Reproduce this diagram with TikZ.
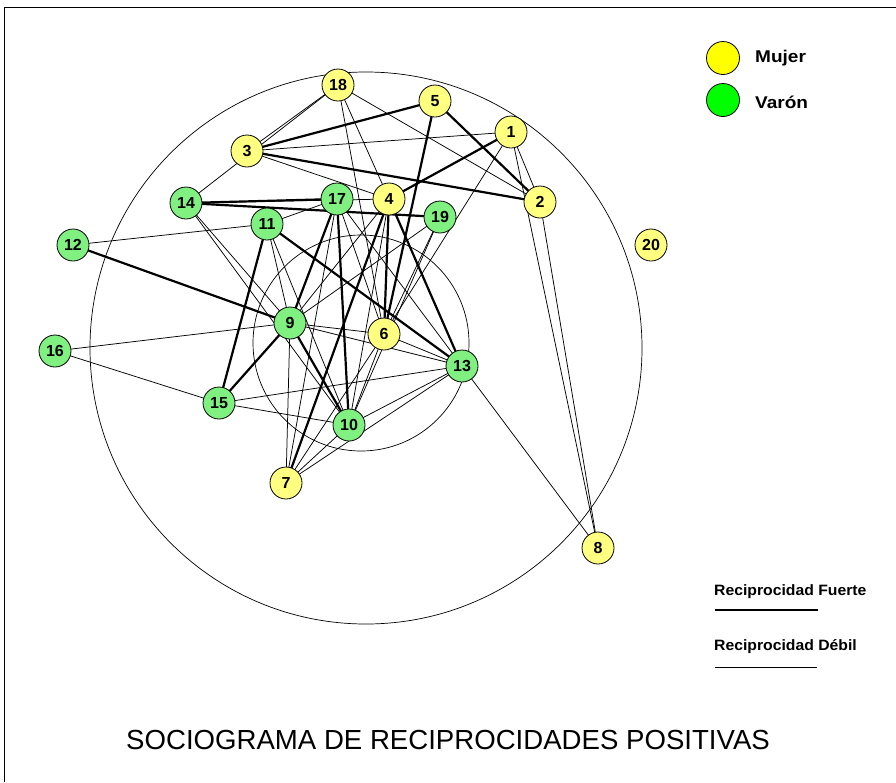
\documentclass[tikz,border=0pt]{standalone}
\usepackage{fontspec}
\setmainfont{Liberation Sans}
\usepackage{graphicx}
\usetikzlibrary{backgrounds}
\definecolor{nyel}{RGB}{255,255,128}
\definecolor{ngrn}{RGB}{128,240,128}
\definecolor{lyel}{RGB}{255,255,0}
\definecolor{lgrn}{RGB}{0,255,0}
\begin{document}
\begin{tikzpicture}[x=1pt,y=-1pt,
  pers/.style={circle, draw=black, line width=0.8pt, minimum size=32pt, inner sep=0pt, font=\fontsize{16}{16}\selectfont\bfseries},
  muj/.style={pers, fill=nyel},
  var/.style={pers, fill=ngrn},
  weak/.style={line width=0.75pt},
  strong/.style={line width=2.2pt},
  legtxt/.style={anchor=west, inner sep=0pt, font=\fontsize{15}{15}\selectfont\bfseries}]
\useasboundingbox (0,0) rectangle (896,782);
\draw[line width=1pt] (4,782) -- (4,7) -- (896,7);

% persons
\node[muj] (n18) at (338,85) {18};
\node[muj] (n5) at (435,101) {5};
\node[muj] (n1) at (511,132) {1};
\node[muj] (n3) at (247,151) {3};
\node[muj] (n2) at (540,202) {2};
\node[var] (n14) at (186,203) {14};
\node[var] (n17) at (337,199) {17};
\node[muj] (n4) at (389,199) {4};
\node[var] (n19) at (440,217) {19};
\node[var] (n11) at (267,224) {11};
\node[var] (n12) at (73,245) {12};
\node[muj] (n20) at (651,245) {20};
\node[var] (n9) at (290,323) {9};
\node[muj] (n6) at (384,334) {6};
\node[var] (n16) at (55,351) {16};
\node[var] (n13) at (462,366) {13};
\node[var] (n15) at (219,403) {15};
\node[var] (n10) at (349,425) {10};
\node[muj] (n7) at (286,483) {7};
\node[muj] (n8) at (598,548) {8};

\begin{scope}[on background layer]
\draw[line width=0.7pt] (366,348) circle [radius=276pt];
\draw[line width=0.7pt] (361,343) circle [radius=108pt];
\foreach \a/\b in {3/5,3/2,5/2,5/6,1/4,14/17,14/19,17/9,17/10,4/6,4/7,4/13,11/13,11/15,9/15,12/9,9/10}
  \draw[strong] (n\a.center) -- (n\b.center);
\foreach \a/\b in {18/3,18/14,18/2,18/4,18/6,1/3,1/2,1/8,1/6,2/8,3/4,14/4,14/9,14/10,17/11,17/6,17/13,17/7,11/12,11/9,11/10,9/16,9/6,9/13,9/19,9/7,16/15,15/10,15/13,6/13,6/10,6/7,6/19,19/10,10/13,7/13,7/10,13/8,4/10,4/9}
  \draw[weak] (n\a.center) -- (n\b.center);
\end{scope}

% legend
\node[circle, draw=black, line width=0.8pt, fill=lyel, minimum size=33pt, inner sep=0pt] (lm) at (723,58) {};
\node[circle, draw=black, line width=0.8pt, fill=lgrn, minimum size=33pt, inner sep=0pt] (lv) at (723,100) {};
\node[legtxt, font=\fontsize{17}{17}\selectfont\bfseries] (tm) at (755,58) {\scalebox{1.12}[1]{Mujer}};
\node[legtxt, font=\fontsize{17}{17}\selectfont\bfseries] (tv) at (755,102) {\scalebox{1.12}[1]{Varón}};

\node[legtxt] (tf) at (714,592) {\scalebox{1.05}[1]{Reciprocidad Fuerte}};
\coordinate (f1) at (715,610);
\coordinate (f2) at (818,610);
\draw[strong] (f1) -- (f2);
\node[legtxt] (td) at (714,647) {\scalebox{1.05}[1]{Reciprocidad Débil}};
\coordinate (d1) at (715,667);
\coordinate (d2) at (817,667);
\draw[weak] (d1) -- (d2);

\node (title) at (448,740) {\fontsize{27.6}{30}\selectfont SOCIOGRAMA DE RECIPROCIDADES POSITIVAS};
\end{tikzpicture}
\end{document}
